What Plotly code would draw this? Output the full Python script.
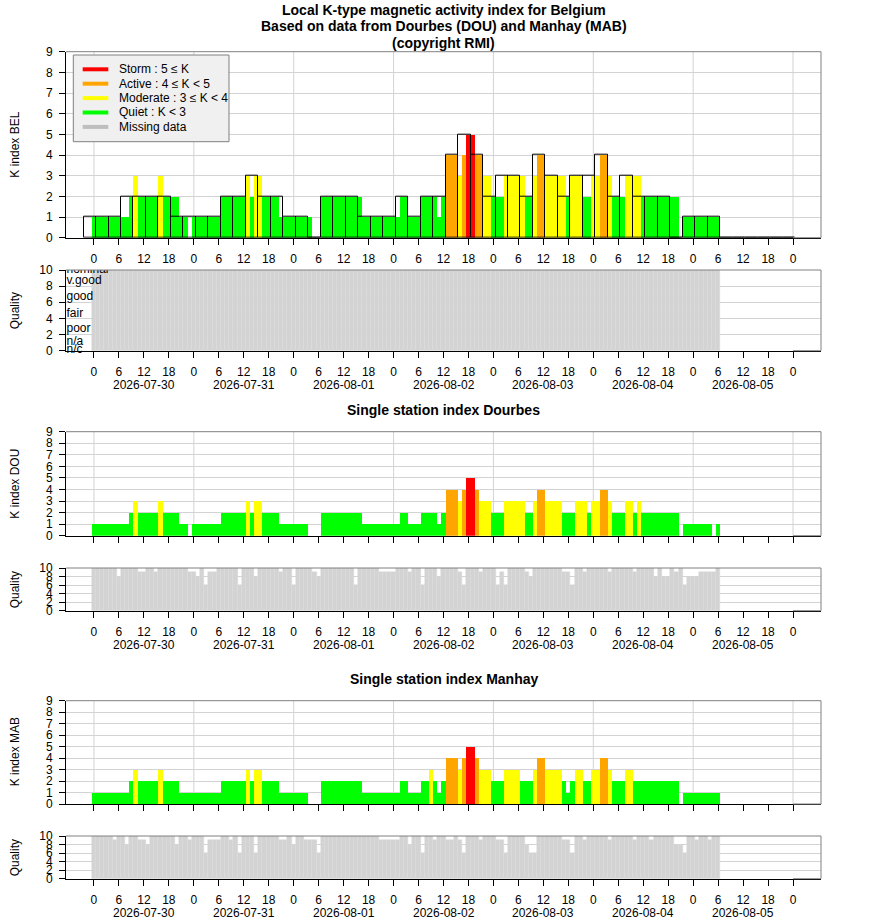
import plotly.graph_objects as go

W, H = 880, 924
FONT = "Liberation Sans, Arial, Helvetica, sans-serif"

# ---- data -----------------------------------------------------------------
# hours since 2026-07-30 00:00 UT (hourly "nowcast" K values)
hours = list(range(0, 151))
dates = ["2026-07-30", "2026-07-31", "2026-08-01", "2026-08-02",
         "2026-08-03", "2026-08-04", "2026-08-05"]
hour_ticks = list(range(0, 169, 6))
hour_labels = [str(h % 24) for h in hour_ticks]
N = None  # missing

k_bel = [
    1, 1, 1, 1, 1, 1, 1, 1, 1, 2, 3, 2, 2, 2, 2, 2, 3, 2, 2, 2, 2, 1, 1, N,
    1, 1, 1, 1, 1, 1, 1, 2, 2, 2, 2, 2, 2, 3, 2, 3, 3, 2, 2, 2, 2, 1, 1, 1,
    1, 1, 1, 1, 1, N, N, 2, 2, 2, 2, 2, 2, 2, 2, 2, 2, 1, 1, 1, 1, 1, 1, 1,
    1, 1, 2, 2, 1, 1, 1, 2, 2, 2, 2, 1, 2, 4, 4, 4, 3, 4, 5, 5, 4, 4, 3, 3,
    2, 2, 2, 3, 3, 3, 3, 3, 2, 2, 3, 4, 4, 3, 3, 3, 3, 3, 2, 3, 3, 3, 2, 2,
    3, 3, 4, 4, 3, 2, 2, 2, 3, 3, 3, 3, 2, 2, 2, 2, 2, 2, 2, 2, 2, N, 1, 1,
    1, 1, 1, 1, 1, 1, 1,
]

k_dou = [
    1, 1, 1, 1, 1, 1, 1, 1, 1, 2, 3, 2, 2, 2, 2, 2, 3, 2, 2, 2, 2, 1, 1, N,
    1, 1, 1, 1, 1, 1, 1, 2, 2, 2, 2, 2, 2, 3, 2, 3, 3, 2, 2, 2, 2, 1, 1, 1,
    1, 1, 1, 1, N, N, N, 2, 2, 2, 2, 2, 2, 2, 2, 2, 2, 1, 1, 1, 1, 1, 1, 1,
    1, 1, 2, 2, 1, 1, 1, 2, 2, 2, 2, 1, 2, 4, 4, 4, 3, 4, 5, 5, 4, 3, 3, 3,
    2, 2, 2, 3, 3, 3, 3, 3, 2, 2, 3, 4, 4, 3, 3, 3, 3, 2, 2, 2, 3, 3, 3, 2,
    3, 3, 4, 4, 3, 2, 2, 2, 3, 3, 2, 3, 2, 2, 2, 2, 2, 2, 2, 2, 2, N, 1, 1,
    1, 1, 1, 1, 1, N, 1,
]

k_mab = [
    1, 1, 1, 1, 1, 1, 1, 1, 1, 2, 3, 2, 2, 2, 2, 2, 3, 2, 2, 2, 2, 1, 1, 1,
    1, 1, 1, 1, 1, 1, 1, 2, 2, 2, 2, 2, 2, 3, 2, 3, 3, 2, 2, 2, 2, 1, 1, 1,
    1, 1, 1, 1, N, N, N, 2, 2, 2, 2, 2, 2, 2, 2, 2, 2, 1, 1, 1, 1, 1, 1, 1,
    1, 1, 2, 2, 1, 1, 1, 2, 2, 3, 2, 1, 2, 4, 4, 4, 3, 4, 5, 5, 4, 3, 3, 3,
    2, 2, 2, 3, 3, 3, 3, 2, 2, 2, 3, 4, 4, 3, 3, 3, 3, 2, 1, 2, 3, 3, 2, 2,
    3, 3, 4, 4, 3, 2, 2, 2, 3, 3, 2, 2, 2, 2, 2, 2, 2, 2, 2, 2, 2, N, 1, 1,
    1, 1, 1, 1, 1, 1, 1,
]

# 3-hourly K index BEL (box centres in hours)
box_centres = list(range(-1, 168, 3))
box_k_bel = [
    1, 1, 1, 2, 2, 2, 2, 1, 1, 1, 1, 2, 2, 3, 2, 2, 1, 1, 0, 2,
    2, 2, 1, 1, 1, 2, 1, 2, 2, 4, 5, 4, 2, 3, 3, 2, 4, 3, 2, 3,
    3, 4, 2, 3, 2, 2, 2, 0, 1, 1, 1, 0, 0, 0, 0, 0, 0,
]

q_bel = [
    10, 10, 10, 10, 10, 10, 10, 10, 10, 10, 10, 10, 10, 10, 10, 10, 10, 10, 10, 10, 10, 10, 10, 10,
    10, 10, 10, 10, 10, 10, 10, 10, 10, 10, 10, 10, 10, 10, 10, 10, 10, 10, 10, 10, 10, 10, 10, 10,
    10, 10, 10, 10, 10, 10, 10, 10, 10, 10, 10, 10, 10, 10, 10, 10, 10, 10, 10, 10, 10, 10, 10, 10,
    10, 10, 10, 10, 10, 10, 10, 10, 10, 10, 10, 10, 10, 10, 10, 10, 10, 10, 10, 10, 10, 10, 10, 10,
    10, 10, 10, 10, 10, 10, 10, 10, 10, 10, 10, 10, 10, 10, 10, 10, 10, 10, 10, 10, 10, 10, 10, 10,
    10, 10, 10, 10, 10, 10, 10, 10, 10, 10, 10, 10, 10, 10, 10, 10, 10, 10, 10, 10, 10, 10, 10, 10,
    10, 10, 10, 10, 10, 10, 10,
]

q_dou = [
    10, 10, 10, 10, 10, 10, 8, 10, 10, 10, 10, 9, 9, 10, 10, 9, 10, 10, 10, 10, 10, 10, 10, 9,
    9, 8, 10, 6, 9, 9, 10, 10, 10, 10, 10, 6, 10, 10, 10, 8, 10, 10, 10, 10, 10, 9, 10, 10,
    6, 10, 10, 10, 10, 9, 8, 10, 10, 10, 10, 10, 10, 10, 10, 6, 10, 10, 10, 10, 10, 9, 9, 9,
    9, 10, 10, 10, 9, 10, 10, 6, 10, 10, 10, 8, 10, 10, 10, 10, 9, 6, 10, 10, 10, 9, 10, 10,
    10, 6, 9, 6, 10, 10, 10, 10, 9, 8, 10, 10, 10, 10, 10, 10, 10, 9, 9, 6, 10, 10, 9, 10,
    10, 10, 10, 10, 9, 10, 10, 10, 10, 10, 9, 10, 10, 10, 10, 8, 10, 8, 8, 10, 9, 10, 6, 8,
    8, 8, 9, 9, 9, 9, 10,
]

q_mab = [
    10, 10, 10, 10, 10, 9, 10, 10, 8, 10, 10, 9, 9, 8, 10, 10, 10, 10, 10, 10, 8, 10, 10, 9,
    10, 10, 10, 6, 9, 9, 9, 10, 10, 9, 10, 6, 10, 10, 10, 6, 10, 10, 10, 10, 10, 9, 9, 10,
    8, 10, 10, 9, 9, 9, 6, 10, 10, 10, 10, 10, 10, 10, 10, 10, 10, 10, 10, 10, 10, 9, 9, 9,
    9, 9, 10, 10, 8, 10, 10, 6, 10, 10, 9, 10, 10, 9, 9, 10, 9, 6, 10, 10, 10, 9, 10, 10,
    10, 9, 9, 6, 10, 10, 10, 10, 8, 6, 6, 10, 10, 10, 10, 10, 10, 9, 9, 6, 10, 10, 9, 10,
    10, 10, 10, 10, 9, 10, 10, 10, 10, 10, 9, 10, 10, 10, 9, 10, 10, 10, 10, 10, 8, 8, 6, 10,
    10, 9, 10, 10, 9, 10, 10,
]

quality_names = ["nominal", "v.good", "good", "fair", "poor", "n/a", "n/c"]
quality_levels = [10, 8.7, 6.6, 4.6, 2.7, 1.1, 0.1]

legend_names = ["Storm : 5 \u2264 K", "Active : 4 \u2264 K < 5",
                "Moderate : 3 \u2264 K < 4", "Quiet : K < 3", "Missing data"]

# ---- style ----------------------------------------------------------------
RED, ORANGE, YELLOW, GREEN, GREY = "#ff0000", "#ffa500", "#ffff00", "#00ff00", "#bebebe"
legend_colours = [RED, ORANGE, YELLOW, GREEN, GREY]
QGREY = "#d3d3d3"
GRID = "#d3d3d3"
FRAME = "#808080"
X_RANGE = [-6.72, 174.72]
X_LEFT, X_RIGHT = 66, 821
# (top px, bottom px) for each of the six panels
PANELS = [(51.7, 237.7), (270, 350.7), (431.7, 535.7),
          (568, 610.7), (700.7, 804), (836, 878.7)]


def fx(p):
    return p / W


def fy(p):
    return 1 - p / H


def k_colour(k):
    if k >= 5:
        return RED
    if k >= 4:
        return ORANGE
    if k >= 3:
        return YELLOW
    return GREEN


def ax(i):
    return ("x", "y") if i == 1 else ("x%d" % i, "y%d" % i)


fig = go.Figure()


def add_k_bars(i, values):
    xa, ya = ax(i)
    fig.add_trace(go.Bar(
        x=hours, y=values, width=1, xaxis=xa, yaxis=ya,
        marker=dict(color=[k_colour(v) if v is not None else GREY for v in values],
                    line=dict(width=0)),
        hoverinfo="x+y", showlegend=False))


def add_q_bars(i, values):
    xa, ya = ax(i)
    fig.add_trace(go.Bar(
        x=hours, y=values, width=1, xaxis=xa, yaxis=ya,
        marker=dict(color=QGREY, line=dict(color="#dadada", width=0.5)),
        hoverinfo="x+y", showlegend=False))


add_k_bars(1, k_bel)
fig.add_trace(go.Bar(
    x=box_centres, y=box_k_bel, width=3, xaxis="x", yaxis="y",
    marker=dict(color="rgba(0,0,0,0)", line=dict(color="black", width=1)),
    hoverinfo="x+y", showlegend=False))
add_q_bars(2, q_bel)
add_k_bars(3, k_dou)
add_q_bars(4, q_dou)
add_k_bars(5, k_mab)
add_q_bars(6, q_mab)

# quality level names inside BEL quality panel
fig.add_trace(go.Scatter(
    x=[-6.6], y=quality_levels[:1], text=quality_names[:1], mode="text",
    textposition="middle right", cliponaxis=True, xaxis="x2", yaxis="y2",
    textfont=dict(size=12, color="black", family=FONT),
    hoverinfo="skip", showlegend=False))
fig.add_trace(go.Scatter(
    x=[-6.6] * 6, y=quality_levels[1:], text=quality_names[1:], mode="text",
    textposition="middle right", cliponaxis=False, xaxis="x2", yaxis="y2",
    textfont=dict(size=12, color="black", family=FONT),
    hoverinfo="skip", showlegend=False))

layout = dict(
    width=W, height=H, autosize=False,
    margin=dict(l=0, r=0, t=0, b=0, pad=0, autoexpand=False),
    paper_bgcolor="white", plot_bgcolor="white",
    barmode="overlay", bargap=0,
    font=dict(family=FONT, size=12, color="black"),
    showlegend=False,
)

shapes = []
annotations = []

for i, (top, bottom) in enumerate(PANELS, start=1):
    is_k = i % 2 == 1
    xa, ya = ax(i)
    xkey = "xaxis" if i == 1 else "xaxis%d" % i
    ykey = "yaxis" if i == 1 else "yaxis%d" % i
    show_hours = i in (1, 2, 4, 6)
    layout[xkey] = dict(
        domain=[fx(X_LEFT), fx(X_RIGHT)], range=X_RANGE, anchor=ya,
        tickmode="array", tickvals=hour_ticks, ticktext=hour_labels,
        showticklabels=show_hours, ticks="outside", ticklen=6,
        tickcolor="black", tickwidth=1, ticklabelstandoff=4,
        showline=True, linecolor="black", linewidth=1,
        showgrid=False, zeroline=False, fixedrange=True, automargin=False,
        tickfont=dict(size=12))
    layout[ykey] = dict(
        domain=[fy(bottom), fy(top)], anchor=xa,
        range=[0, 9] if is_k else [0, 10],
        tickmode="linear", tick0=0, dtick=1 if is_k else 2,
        ticks="outside", ticklen=6, tickcolor="black", tickwidth=1,
        ticklabelstandoff=4,
        showline=True, linecolor="black", linewidth=1,
        showgrid=True, gridcolor=GRID, gridwidth=1, automargin=False,
        zeroline=False, fixedrange=True, tickfont=dict(size=12))

    # grey top and right frame edges, grey bottom past the last tick
    shapes.append(dict(type="line", xref=xa + " domain", yref=ya + " domain",
                       x0=0, x1=1, y0=1, y1=1, layer="above",
                       line=dict(color=FRAME, width=1)))
    shapes.append(dict(type="line", xref=xa + " domain", yref=ya + " domain",
                       x0=1, x1=1, y0=0, y1=1, layer="above",
                       line=dict(color=FRAME, width=1)))
    shapes.append(dict(type="line", xref=xa, yref=ya + " domain",
                       x0=hour_ticks[-1], x1=X_RANGE[1], y0=0, y1=0, layer="above",
                       line=dict(color=FRAME, width=1)))

    if is_k:
        for d in hour_ticks[::4]:
            shapes.append(dict(type="line", xref=xa, yref=ya + " domain",
                               x0=d, x1=d, y0=0, y1=1, layer="below",
                               line=dict(color=GRID, width=1)))
    else:
        for j, d in enumerate(dates):
            annotations.append(dict(
                x=24 * j + 12, xref=xa, y=fy(bottom + 34.3), yref="paper",
                text=d, showarrow=False, xanchor="center", yanchor="middle",
                font=dict(size=12)))

    title = ["K index BEL", "Quality", "K index DOU",
             "Quality", "K index MAB", "Quality"][i - 1]
    annotations.append(dict(
        x=fx(15), xref="paper", y=fy((top + bottom) / 2), yref="paper",
        text=title, textangle=-90, showarrow=False,
        xanchor="center", yanchor="middle", font=dict(size=12)))

# main and panel titles
centre = fx((X_LEFT + X_RIGHT) / 2)
for txt, py in [("Local K-type magnetic activity index for Belgium", 9.5),
                ("Based on data from Dourbes (DOU) and Manhay (MAB)", 26.5),
                ("(copyright RMI)", 43.5),
                ("Single station index Dourbes", 410),
                ("Single station index Manhay", 679)]:
    annotations.append(dict(
        x=centre, xref="paper", y=fy(py), yref="paper",
        text="<b>%s</b>" % txt, showarrow=False,
        xanchor="center", yanchor="middle", font=dict(size=14)))

# legend box (top-left of the BEL panel)
shapes.append(dict(type="rect", xref="paper", yref="paper",
                   x0=fx(73.3), x1=fx(229), y0=fy(141.7), y1=fy(55),
                   fillcolor="#f0f0f0", line=dict(color=FRAME, width=1),
                   layer="above"))
for j, (name, col) in enumerate(zip(legend_names, legend_colours)):
    py = 69.3 + 14.4 * j
    shapes.append(dict(type="line", xref="paper", yref="paper",
                       x0=fx(82.7), x1=fx(108.3), y0=fy(py), y1=fy(py),
                       line=dict(color=col, width=4), layer="above"))
    annotations.append(dict(
        x=fx(116.5), xref="paper", y=fy(py), yref="paper", text=name,
        showarrow=False, xanchor="left", yanchor="middle",
        font=dict(size=12)))

layout["shapes"] = shapes
layout["annotations"] = annotations
fig.update_layout(**layout)

fig.write_html(
    "out.html",
    config={"displayModeBar": False},
    post_script="document.body.style.margin='0';"
                "document.body.style.overflow='hidden';")
